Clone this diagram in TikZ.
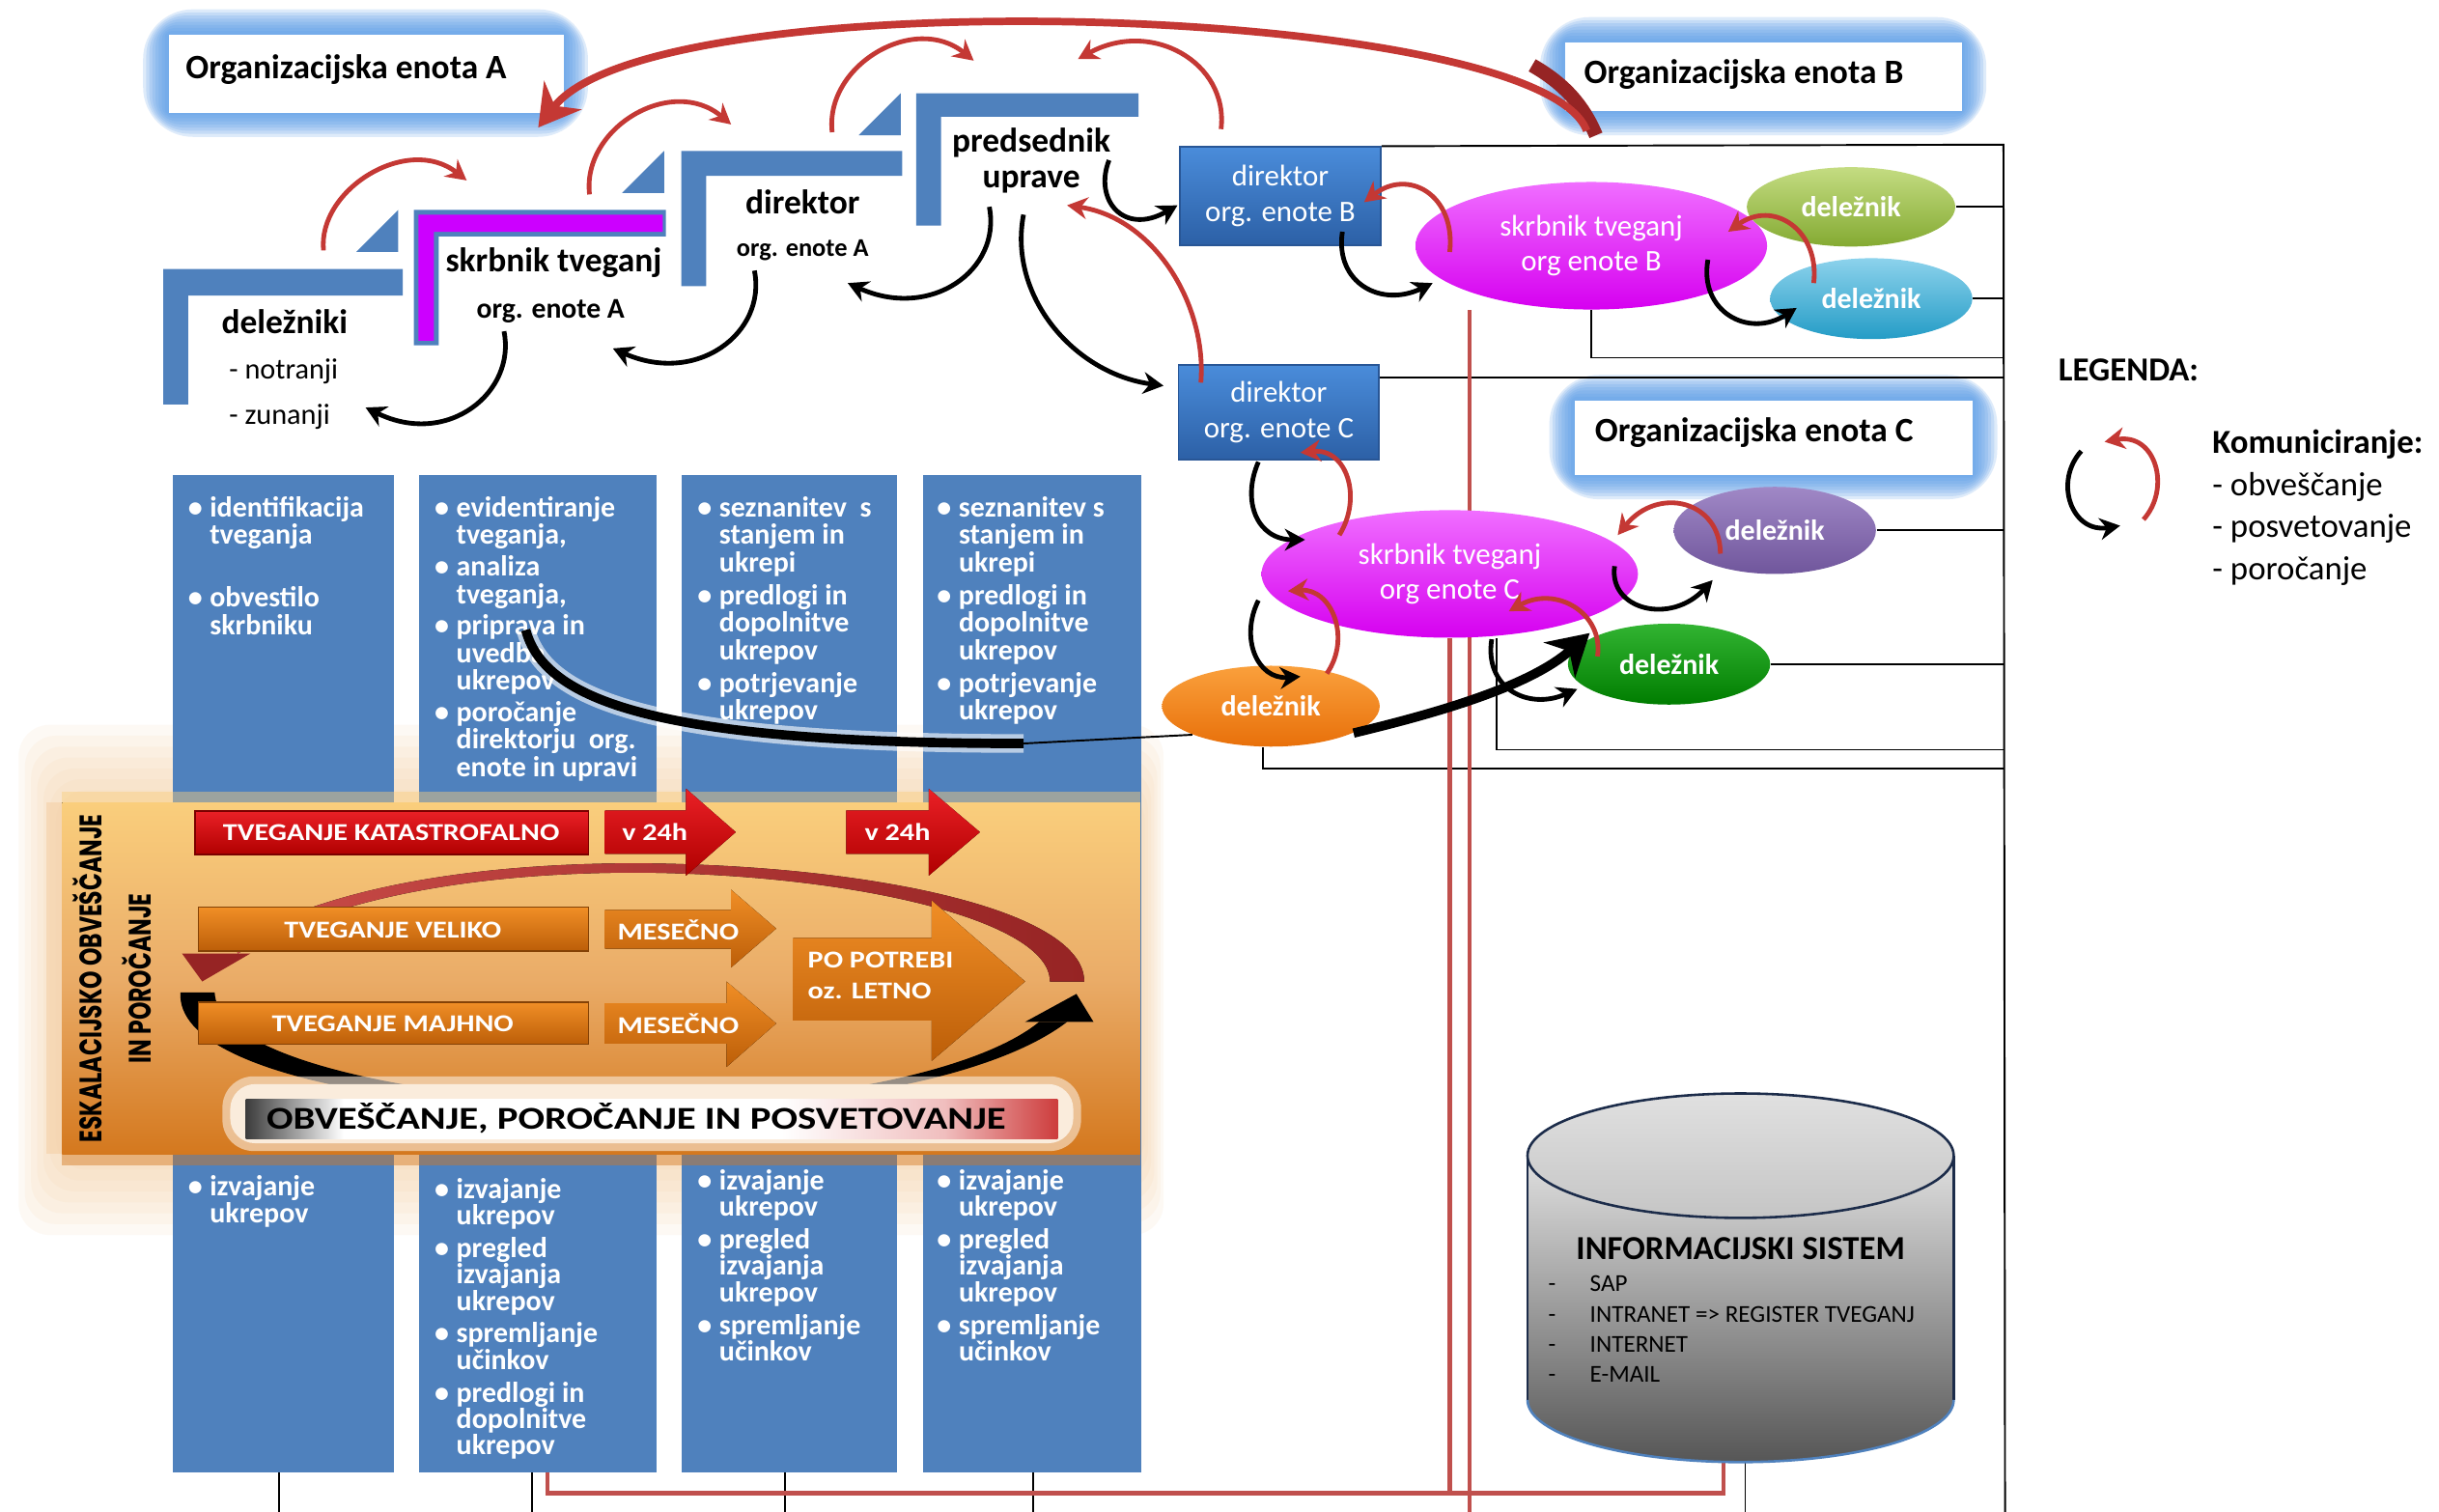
\documentclass[tikz,border=0pt]{standalone}
\usepackage{fontspec}
\setmainfont{Carlito}
\newfontfamily\bandfont{Carlito}[FakeStretch=1.2]
\newfontfamily\barfont{Carlito}[FakeStretch=1.24]
\newfontfamily\gothic{Poppins}[FakeStretch=0.73]
\usetikzlibrary{shapes.geometric,arrows.meta}

\pgfdeclarelayer{back}
\pgfdeclarelayer{links}
\pgfsetlayers{back,links,main}

\definecolor{stepblue}{RGB}{79,129,189}
\definecolor{glowblue}{RGB}{92,156,232}
\definecolor{stepmag}{RGB}{204,0,255}
\definecolor{commred}{RGB}{196,56,52}
\definecolor{commdark}{RGB}{150,36,36}
\definecolor{linered}{RGB}{192,80,77}
\definecolor{boxtop}{RGB}{74,140,218}
\definecolor{boxbot}{RGB}{44,96,166}
\definecolor{boxedge}{RGB}{40,86,150}
\definecolor{magtop}{RGB}{240,110,255}
\definecolor{magbot}{RGB}{214,0,240}
\definecolor{olivetop}{RGB}{196,220,130}
\definecolor{olivebot}{RGB}{132,170,50}
\definecolor{cyantop}{RGB}{140,210,236}
\definecolor{cyanbot}{RGB}{36,156,198}
\definecolor{purpletop}{RGB}{160,136,198}
\definecolor{purplebot}{RGB}{112,86,156}
\definecolor{greentop}{RGB}{50,180,50}
\definecolor{greenbot}{RGB}{0,125,0}
\definecolor{orangetop}{RGB}{250,160,60}
\definecolor{orangebot}{RGB}{232,112,10}
\definecolor{bandtop}{RGB}{250,206,124}
\definecolor{bandmid}{RGB}{234,172,104}
\definecolor{bandbot}{RGB}{212,120,30}
\definecolor{peach}{RGB}{245,205,160}
\definecolor{kredtop}{RGB}{234,32,38}
\definecolor{kredbot}{RGB}{176,0,0}
\definecolor{korgtop}{RGB}{240,142,38}
\definecolor{korgbot}{RGB}{188,94,8}
\definecolor{cyltop}{RGB}{224,224,224}
\definecolor{cylbot}{RGB}{86,86,86}
\definecolor{cyledge}{RGB}{28,44,74}
\definecolor{barleft}{RGB}{60,60,60}
\definecolor{barpink}{RGB}{240,190,190}
\definecolor{barred}{RGB}{205,60,60}
\definecolor{cream}{RGB}{250,236,220}

\pgfdeclarehorizontalshading{obvbar}{100bp}{color(0bp)=(barleft); color(25bp)=(barleft); color(31bp)=(white); color(58bp)=(white); color(68bp)=(barpink); color(75bp)=(barred); color(100bp)=(barred)}

\newcommand\colbul{\makebox[7pt][l]{•}}
\newcommand\colind{\hspace*{7pt}}
\newcommand\colfont{\bfseries\fontsize{9.3}{8.8}\selectfont\lineskiplimit=-10pt}
\newcommand\colfontb{\bfseries\fontsize{9.3}{8.5}\selectfont\lineskiplimit=-10pt}
% soft blue frame behind a white label box: x1 y1 x2 y2
\newcommand\glowframe[4]{%
  \foreach \g in {16,14,...,2}{%
    \fill[glowblue, fill opacity=0.2, rounded corners=\g pt] ({#1-\g},{#2-\g}) rectangle ({#3+\g},{#4+\g});
  }}

\begin{document}
\begin{tikzpicture}[x=0.5pt, y=-0.5pt,
  orgbox/.style={fill=white, inner sep=0pt},
  orgtxt/.style={font=\bfseries\fontsize{11}{13}\selectfont, inner sep=0pt, anchor=west},
  steptxt/.style={font=\bfseries\fontsize{11}{13}\selectfont, inner sep=0pt},
  stepsub/.style={font=\bfseries\fontsize{9.2}{11}\selectfont, inner sep=0pt},
  stepitem/.style={font=\fontsize{9.4}{11}\selectfont, inner sep=0pt, anchor=west},
  dirbox/.style={draw=boxedge, line width=0.6pt, top color=boxtop, bottom color=boxbot, text=white, align=center, inner sep=0pt, anchor=north west, font=\fontsize{9.6}{11.5}\selectfont},
  ell/.style={ellipse, inner sep=0pt, text=white, align=center},
  delt/.style={ell, font=\bfseries\fontsize{9.3}{11}\selectfont},
  skrt/.style={ell, font=\fontsize{9.6}{11}\selectfont},
  colbox/.style={fill=stepblue, inner sep=0pt, anchor=north west},
  coltxt/.style={anchor=north west, align=left, inner sep=0pt, text=white, font=\colfont},
  coltxtb/.style={anchor=north west, align=left, inner sep=0pt, text=white, font=\colfontb},
  thinln/.style={line width=0.6pt, black},
  redln/.style={draw=linered, line width=1.3pt},
  commR/.style={draw=commred, line width=1.5pt, -{Stealth[length=6.5pt,width=7pt]}},
  commB/.style={draw=black, line width=1.5pt, -{Stealth[length=6.5pt,width=7pt]}},
  bandtxt/.style={text=white, inner sep=0pt, font=\bandfont\bfseries\fontsize{7.8}{9}\selectfont},
  kred/.style={top color=kredtop, bottom color=kredbot, draw=kredbot!70!black, line width=0.4pt, inner sep=0pt, anchor=north west},
  korg/.style={top color=korgtop, bottom color=korgbot, draw=korgbot!70!black, line width=0.4pt, inner sep=0pt, anchor=north west}
]
\begin{pgfonlayer}{back}
\fill[white] (0,0) rectangle (1568,972);
\glowframe{108}{22}{362}{72}
\glowframe{1006}{27}{1261}{71}
\glowframe{1012}{257}{1268}{305}
% soft halo behind the escalation band
\foreach \g in {0,1,...,6}{%
  \fill[peach, fill opacity=0.11, rounded corners=10pt] ({12+\g*4},{466+\g*7}) rectangle ({748-\g*2},{794-\g*7});
}
\end{pgfonlayer}
\useasboundingbox (0,0) rectangle (1568,972);

% ---------- organisational unit labels ----------
\node[orgbox, minimum width=127pt, minimum height=25pt, anchor=north west] (orgA) at (108,22) {};
\node[orgtxt] (orgAt) at (119,45) {Organizacijska enota A};
\node[orgbox, minimum width=127.5pt, minimum height=22pt, anchor=north west] (orgB) at (1006,27) {};
\node[orgtxt] (orgBt) at (1018,48) {Organizacijska enota B};
\node[orgbox, minimum width=128pt, minimum height=24pt, anchor=north west] (orgC) at (1012,257) {};
\node[orgtxt] (orgCt) at (1025,278) {Organizacijska enota C};

% ---------- process columns ----------
\node[colbox, minimum width=71pt, minimum height=320.5pt] (col1) at (111,305) {};
\node[colbox, minimum width=76.5pt, minimum height=320.5pt] (col2) at (269,305) {};
\node[colbox, minimum width=69pt, minimum height=320.5pt] (col3) at (438,305) {};
\node[colbox, minimum width=70pt, minimum height=320.5pt] (col4) at (593,305) {};

\node[coltxt] (c1a) at (120.5,316) {\rule{0pt}{8pt}\colbul identifikacija\\\colind tveganja\\[11.4pt]\colbul obvestilo\\\colind skrbniku};
\node[coltxt] (c2a) at (279,316) {\rule{0pt}{8pt}\colbul evidentiranje\\\colind tveganja,\\[1.4pt]\colbul analiza\\\colind tveganja,\\[1.4pt]\colbul priprava in\\\colind uvedba\\\colind ukrepov\\[1.4pt]\colbul poročanje\\\colind direktorju~~org.\\\colind enote in upravi};
\node[coltxt] (c3a) at (448,316) {\rule{0pt}{8pt}\colbul seznanitev~~s\\\colind stanjem in\\\colind ukrepi\\[1.8pt]\colbul predlogi in\\\colind dopolnitve\\\colind ukrepov\\[1.8pt]\colbul potrjevanje\\\colind ukrepov};
\node[coltxt] (c4a) at (602,316) {\rule{0pt}{8pt}\colbul seznanitev s\\\colind stanjem in\\\colind ukrepi\\[1.8pt]\colbul predlogi in\\\colind dopolnitve\\\colind ukrepov\\[1.8pt]\colbul potrjevanje\\\colind ukrepov};

\node[coltxtb] (c1b) at (120.5,752.5) {\rule{0pt}{8pt}\colbul izvajanje\\\colind ukrepov};
\node[coltxtb] (c2b) at (279,754) {\rule{0pt}{8pt}\colbul izvajanje\\\colind ukrepov\\[2pt]\colbul pregled\\\colind izvajanja\\\colind ukrepov\\[2pt]\colbul spremljanje\\\colind učinkov\\[2pt]\colbul predlogi in\\\colind dopolnitve\\\colind ukrepov};
\node[coltxtb] (c3b) at (448,748.5) {\rule{0pt}{8pt}\colbul izvajanje\\\colind ukrepov\\[2pt]\colbul pregled\\\colind izvajanja\\\colind ukrepov\\[2pt]\colbul spremljanje\\\colind učinkov};
\node[coltxtb] (c4b) at (602,748.5) {\rule{0pt}{8pt}\colbul izvajanje\\\colind ukrepov\\[2pt]\colbul pregled\\\colind izvajanja\\\colind ukrepov\\[2pt]\colbul spremljanje\\\colind učinkov};

% ---------- information system (cylinder) ----------
\node[inner sep=0pt, minimum width=137pt, minimum height=118.5pt] (cyl) at (1119,821.5) {};
\shade[top color=cyltop, bottom color=cylbot] (982,743) -- (982,900) arc[start angle=180, end angle=0, x radius=137, y radius=40] -- (1256,743) -- cycle;
\draw[cyledge, line width=0.7pt] (982,743) -- (982,900);
\draw[cyledge, line width=0.7pt] (1256,743) -- (1256,900);
\draw[stepblue, line width=0.8pt] (982,900) arc[start angle=180, end angle=0, x radius=137, y radius=40];
\filldraw[top color=cyltop, bottom color=cyltop!88!black, draw=cyledge, line width=0.8pt] (1119,743) ellipse [x radius=137, y radius=40];
\node[font=\bfseries\fontsize{10.8}{12}\selectfont, inner sep=0pt] (ist) at (1119,803) {INFORMACIJSKI SISTEM};
\node[font=\fontsize{7.8}{9.65}\selectfont, inner sep=0pt, anchor=north west, align=left] (isl) at (995,820)
  {-\hspace{11pt}SAP\\-\hspace{11pt}INTRANET => REGISTER TVEGANJ\\-\hspace{11pt}INTERNET\\-\hspace{11pt}E-MAIL};

% ---------- units of B and C ----------
\node[dirbox, minimum width=64.5pt, minimum height=31.5pt] (dirB) at (758,94) {direktor\\org. enote B};
\node[dirbox, minimum width=64.5pt, minimum height=30.5pt] (dirC) at (757,234) {direktor\\org. enote C};

\node[skrt, minimum width=113pt, minimum height=41pt, top color=magtop, bottom color=magbot] (skrB) at (1023,158) {skrbnik tveganj\\org enote B};
\node[delt, minimum width=67pt, minimum height=25.5pt, top color=olivetop, bottom color=olivebot] (delB1) at (1190,133) {deležnik};
\node[delt, minimum width=65pt, minimum height=26pt, top color=cyantop, bottom color=cyanbot] (delB2) at (1203,192) {deležnik};
\node[skrt, minimum width=121pt, minimum height=41pt, top color=magtop, bottom color=magbot] (skrC) at (932,369) {skrbnik tveganj\\org enote C};
\node[delt, minimum width=65pt, minimum height=28pt, top color=purpletop, bottom color=purplebot] (delC1) at (1141,341) {deležnik};
\node[delt, minimum width=65pt, minimum height=26pt, top color=greentop, bottom color=greenbot] (delC2) at (1073,427) {deležnik};
\node[delt, minimum width=70pt, minimum height=26pt, top color=orangetop, bottom color=orangebot] (delC3) at (817,454) {deležnik};

% ---------- links to the right-hand rail and to the information system ----------
\coordinate (railTop) at (1288,93);
\coordinate (railBot) at (1289,972);
\coordinate (railB) at (1288,230);
\coordinate (railC1) at (1288,482);
\coordinate (railC2) at (1288,494);
\coordinate (bottomEdge) at (0,972);
\coordinate (redH) at (700,960);
\begin{pgfonlayer}{links}
\draw[thinln] (dirB.north east) -- (railTop) -- (railBot);
\draw[thinln] (delB1.east) -- (delB1.east -| railTop);
\draw[thinln] (delB2.east) -- (delB2.east -| railTop);
\draw[thinln] (skrB.south) |- (railB);
\draw[thinln] ([yshift=-4.5pt]dirC.north east) -- ([yshift=-4.5pt]dirC.north east -| railTop);
\draw[thinln] (delC1.east) -- (delC1.east -| railTop);
\draw[thinln] (delC2.east) -- (delC2.east -| railTop);
\draw[thinln] ([xshift=15pt]skrC.south) |- (railC1);
\draw[thinln] ([xshift=-2.5pt]delC3.south) |- (railC2);
\draw[thinln] ([xshift=-1.5pt]col1.south) -- ([xshift=-1.5pt]col1.south |- bottomEdge);
\draw[thinln] ([xshift=-2pt]col2.south) -- ([xshift=-2pt]col2.south |- bottomEdge);
\draw[thinln] ([xshift=-1.5pt]col3.south) -- ([xshift=-1.5pt]col3.south |- bottomEdge);
\draw[thinln] ([xshift=0.5pt]col4.south) -- ([xshift=0.5pt]col4.south |- bottomEdge);
\draw[thinln] ([xshift=1.5pt]cyl.south) -- ([xshift=1.5pt]cyl.south |- bottomEdge);
\draw[redln] ([xshift=3pt]col2.south) |- (redH) -| ([xshift=-5.5pt]cyl.south);
\draw[redln] ([xshift=-39pt]skrB.south) -- ([xshift=-39pt]skrB.south |- bottomEdge);
\draw[redln] (skrC.south) -- (skrC.south |- redH);
\end{pgfonlayer}

% ---------- hierarchy steps of unit A ----------
\fill[stepblue] (105,173) -- (259,173) -- (259,190) -- (121,190) -- (121,260) -- (105,260) -- cycle;
\fill[stepblue] (229,162) -- (256,162) -- (256,135) -- cycle;
\fill[stepblue] (266,135) -- (428,135) -- (428,152) -- (282,152) -- (282,222) -- (266,222) -- cycle;
\fill[stepmag] (269,138) -- (426,138) -- (426,149) -- (279,149) -- (279,219) -- (269,219) -- cycle;
\fill[stepblue] (400,124) -- (427,124) -- (427,97) -- cycle;
\fill[stepblue] (438,97) -- (580,97) -- (580,113) -- (454,113) -- (454,184) -- (438,184) -- cycle;
\fill[stepblue] (552,87) -- (579,87) -- (579,60) -- cycle;
\fill[stepblue] (589,60) -- (732,60) -- (732,75) -- (605,75) -- (605,145) -- (589,145) -- cycle;

\node[steptxt] (delz) at (183,207) {deležniki};
\node[stepitem] (delz1) at (147,239) {- notranji};
\node[stepitem] (delz2) at (147,268) {- zunanji};
\node[steptxt] (skrA) at (356,169) {skrbnik tveganj};
\node[stepsub] (skrAs) at (354,200) {org. enote A};
\node[steptxt] (dirA) at (516,130) {direktor};
\node[stepsub, font=\bfseries\fontsize{8.2}{10}\selectfont] (dirAs) at (516,161) {org. enote A};
\node[steptxt] (pred) at (663,92) {predsednik};
\node[steptxt] (upr) at (663,117) {uprave};

% ---------- escalation band ----------
\fill[bandtop, fill opacity=0.45] (40,509) rectangle (733,516);
\fill[top color=bandtop, bottom color=bandbot, middle color=bandmid] (40,516) rectangle (733,742);
\fill[bandbot, fill opacity=0.45] (40,742) rectangle (733,749);
\fill[peach, fill opacity=0.5] (30,516) rectangle (40,742);

\node[rotate=90, inner sep=0pt, font=\gothic\bfseries\fontsize{10}{11}\selectfont] (esk1) at (56,629) {ESKALACIJSKO OBVEŠČANJE};
\node[rotate=90, inner sep=0pt, font=\gothic\bfseries\fontsize{10}{11}\selectfont] (esk2) at (88,629) {IN POROČANJE};

% reporting cycle: red upper arc and black lower arc
\fill[left color=commred!90!white, right color=commdark] (697,631) .. controls (697,585) and (560,556) .. (410,555) .. controls (290,555) and (200,575) .. (150,607) -- (153,613) .. controls (205,582) and (290,561) .. (410,561) .. controls (550,562) and (675,592) .. (675,631) -- cycle;
\fill[commdark] (117,613) -- (161,613) -- (130,631) -- cycle;
\fill[black] (116,638) .. controls (112,700) and (330,722) .. (460,713) .. controls (580,705) and (652,683) .. (686,657) -- (668,657) .. controls (640,680) and (570,702) .. (460,709) .. controls (330,716) and (140,690) .. (138,638) -- cycle;
\fill[black] (659,657) -- (692,639) -- (703,657) -- cycle;

\node[kred, minimum width=126.5pt, minimum height=14pt] (katas) at (125,521) {};
\node[bandtxt] (katast) at (251.5,535) {TVEGANJE KATASTROFALNO};
\fill[top color=kredtop, bottom color=kredbot] (389,521) -- (441,521) -- (441,507) -- (473,535) -- (441,563) -- (441,549) -- (389,549) -- cycle;
\node[bandtxt] (v24a) at (421,535) {v 24h};
\fill[top color=kredtop, bottom color=kredbot] (544,521) -- (597,521) -- (597,507) -- (630,535) -- (597,563) -- (597,549) -- (544,549) -- cycle;
\node[bandtxt] (v24b) at (577,535) {v 24h};

\node[korg, minimum width=125.5pt, minimum height=14pt] (velik) at (127,583) {};
\node[bandtxt] (velikt) at (252.5,598) {TVEGANJE VELIKO};
\fill[top color=korgtop, bottom color=korgbot] (389,585) -- (470,585) -- (470,572) -- (499,597) -- (470,622) -- (470,610) -- (389,610) -- cycle;
\node[bandtxt] (mes1) at (436,598) {MESEČNO};

\node[korg, minimum width=125.5pt, minimum height=13.5pt] (majhn) at (127,644) {};
\node[bandtxt] (majhnt) at (252.5,658) {TVEGANJE MAJHNO};
\fill[top color=korgtop, bottom color=korgbot] (389,645) -- (467,645) -- (467,631) -- (499,658) -- (467,686) -- (467,671) -- (389,671) -- cycle;
\node[bandtxt] (mes2) at (436,658) {MESEČNO};

\fill[top color=korgtop, bottom color=korgbot] (510,603) -- (599,603) -- (599,579) -- (659,631) -- (599,682) -- (599,656) -- (510,656) -- cycle;
\node[bandtxt, anchor=west, align=left, font=\bandfont\bfseries\fontsize{7.8}{10}\selectfont] (potr) at (519,627) {PO POTREBI\\oz. LETNO};

% communication summary bar
\fill[cream, fill opacity=0.6, rounded corners=10pt] (143,692) rectangle (695,740);
\fill[cream, rounded corners=8pt] (148,697) rectangle (690,735);
\shade[shading=obvbar] (158,707) rectangle (680,732);
\node[inner sep=0pt, font=\barfont\bfseries\fontsize{10.2}{11}\selectfont] (obv) at (409,719) {OBVEŠČANJE, POROČANJE IN POSVETOVANJE};

% ---------- communication arrows ----------
% long link from the measures to the stakeholder
\draw[white, line width=6pt, opacity=0.6] (338,405) .. controls (350,450) and (420,478) .. (658,478);
\draw[black, line width=3pt] (338,405) .. controls (350,450) and (420,478) .. (658,478);
\draw[black, line width=0.6pt] (658,478) -- (delC3.200);
\draw[black, line width=3pt, -{Stealth[length=13pt,width=15pt]}] (delC3.-18) .. controls (930,457) and (985,440) .. (1022,407);

% between the top units
\draw[commdark, line width=4.5pt] (1026,87) .. controls (1018,68) and (1006,54) .. (985,42);
\draw[commred, line width=2.4pt, -{Stealth[length=13pt,width=15pt]}] (1020,84) .. controls (990,2) and (420,-15) .. (346,82);

\draw[commR] (208,161) .. controls (204,122) and (262,86) .. (300,116);
\draw[commB] (324,213) .. controls (332,252) and (288,288) .. (235,262);
\draw[commR] (379,125) .. controls (374,82) and (432,48) .. (470,80);
\draw[commB] (485,174) .. controls (493,214) and (448,248) .. (394,224);
\draw[commR] (535,85) .. controls (530,42) and (588,8) .. (626,39);
\draw[commB] (636,133) .. controls (644,174) and (598,206) .. (545,182);
\draw[commR] (785,83) .. controls (790,40) and (740,12) .. (693,38);
\draw[commB] (713,103) .. controls (703,128) and (722,152) .. (757,132);
\draw[commR] (772,246) .. controls (776,196) and (742,140) .. (686,132);
\draw[commB] (658,138) .. controls (648,190) and (690,240) .. (748,248);

\draw[commR] (932,162) .. controls (936,125) and (905,108) .. (877,130);
\draw[commB] (863,149) .. controls (858,182) and (888,198) .. (921,182);
\draw[commR] (1166,182) .. controls (1170,148) and (1140,128) .. (1111,149);
\draw[commB] (1098,167) .. controls (1092,200) and (1124,218) .. (1155,198);
\draw[commB] (809,297) .. controls (798,322) and (808,347) .. (839,347);
\draw[commR] (861,344) .. controls (876,320) and (866,288) .. (836,291);
\draw[commR] (1106,356) .. controls (1106,322) and (1066,312) .. (1040,344);
\draw[commB] (1038,364) .. controls (1034,392) and (1074,402) .. (1101,373);
\draw[commB] (809,386) .. controls (797,410) and (808,437) .. (836,435);
\draw[commR] (853,433) .. controls (869,410) and (856,378) .. (828,380);
\draw[commR] (1027,422) .. controls (1031,394) and (1000,376) .. (970,393);
\draw[commB] (959,411) .. controls (954,442) and (982,457) .. (1014,443);

% ---------- legend ----------
\node[font=\bfseries\fontsize{10.8}{12}\selectfont, inner sep=0pt, anchor=west] (leg) at (1323,238) {LEGENDA:};
\draw[commB] (1338,290) .. controls (1320,310) and (1332,343) .. (1363,338);
\draw[commR] (1378,334) .. controls (1396,314) and (1386,278) .. (1353,284);
\node[font=\fontsize{10.8}{13.5}\selectfont, inner sep=0pt, anchor=north west, align=left] (legt) at (1422,276)
  {\textbf{Komuniciranje:}\\- obveščanje\\- posvetovanje\\- poročanje};
\end{tikzpicture}
\end{document}
